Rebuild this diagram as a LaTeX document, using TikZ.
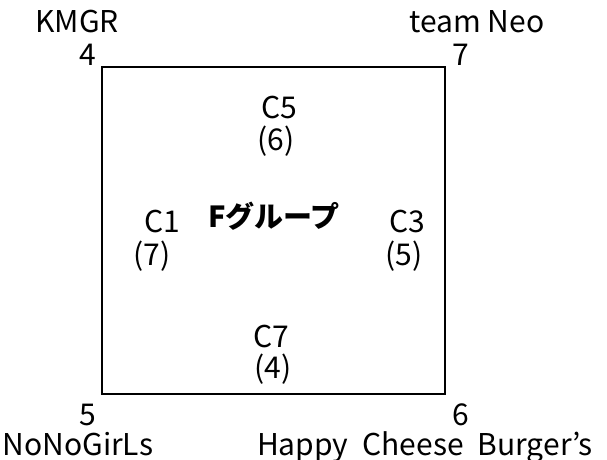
\documentclass[tikz,border=0pt]{standalone}
\usepackage{fontspec}
\setmainfont{Noto Sans CJK JP}
\usetikzlibrary{positioning}

\tikzset{
  lbl/.style={inner sep=0pt,text height=20pt,text depth=0pt,
    font=\fontsize{30}{36}\selectfont},
  ttl/.style={lbl,font=\fontsize{29}{34}\selectfont\bfseries}
}

\begin{document}
\begin{tikzpicture}[x=1pt,y=1pt]
                \useasboundingbox (0,0) rectangle (607,459);
                \coordinate (sw) at (102,65);
                \coordinate (ne) at (445,392);
                \draw[line width=1.2pt] (sw) rectangle (ne);
                % corners
                \node[lbl](kmgr) at (77,436) {KMGR};
                \node[lbl](n4) at (88,403) {4};
                \node[lbl](neo) at (477,436) {team Neo};
                \node[lbl](n7) at (461,403) {7};
                \node[lbl](n5) at (88,44) {5};
                \node[lbl](nono) at (78,14) {NoNoGirLs};
                \node[lbl](n6) at (461,44) {6};
                \node[lbl](happy) at (425,14) {Happy\hspace{14pt}Cheese\hspace{14pt}Burger\symbol{"27}s};
                % inside
                \node[ttl](grp) at (274,242) {Fグループ};
                \node[lbl](c5) at (279,351) {C5};
                \node[lbl](p6) at (276,319) {(6)};
                \node[lbl](c1) at (162,237) {C1};
                \node[lbl](p7) at (152,204) {(7)};
                \node[lbl](c3) at (407,237) {C3};
                \node[lbl](p5) at (404,204) {(5)};
                \node[lbl](c7) at (271,122) {C7};
                \node[lbl](p4) at (273,91) {(4)};
            \end{tikzpicture}
\end{document}
